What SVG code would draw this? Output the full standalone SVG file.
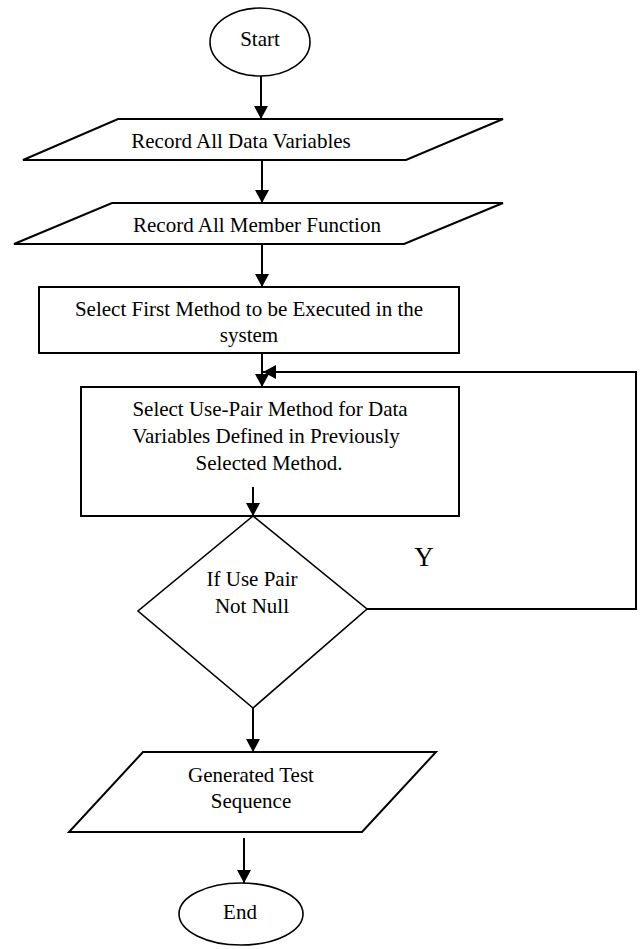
<svg xmlns="http://www.w3.org/2000/svg" width="642" height="949" viewBox="0 0 642 949">
<style>
.shape{fill:#fff;stroke:#000;stroke-width:2}
.thin{fill:#fff;stroke:#000;stroke-width:1.6}
.t{font-family:"Liberation Serif","Times New Roman",serif;font-size:21px;fill:#000;text-anchor:middle}
.conn{fill:none;stroke:#000;stroke-width:2}
</style>
<defs>
<marker id="ah" markerUnits="userSpaceOnUse" markerWidth="14" markerHeight="14" refX="13" refY="7" orient="auto">
<path d="M0,0 L13,7 L0,14 z" fill="#000"/>
</marker>
</defs>
<rect width="642" height="949" fill="#fff"/>
<g id="start">
<ellipse class="thin" cx="260" cy="42" rx="50" ry="34"/>
<text class="t" x="260" y="46">Start</text>
</g>
<g id="recordVars">
<polygon class="shape" points="118,119 503,119 406,160 23,160"/>
<text class="t" x="241" y="148">Record All Data Variables</text>
</g>
<g id="recordFuncs">
<polygon class="shape" points="112,203 503,203 404,244 14,244"/>
<text class="t" x="257" y="232">Record All Member Function</text>
</g>
<g id="selectFirst">
<rect class="shape" x="39" y="287" width="420" height="66"/>
<text class="t" x="249" y="316">Select First Method to be Executed in the</text>
<text class="t" x="249" y="342">system</text>
</g>
<g id="selectUsePair">
<rect class="shape" x="81" y="387" width="378" height="129"/>
<text class="t" x="270" y="416">Select Use-Pair Method for Data</text>
<text class="t" x="266" y="443">Variables Defined in Previously</text>
<text class="t" x="269" y="470">Selected Method.</text>
</g>
<g id="decision">
<polygon class="thin" points="253,516 367,609 253,708 138,611"/>
<text class="t" x="252" y="586">If Use Pair</text>
<text class="t" x="252" y="613">Not Null</text>
</g>
<g id="output">
<polygon class="shape" points="143,752 436,752 362,832 69,832"/>
<text class="t" x="251" y="782">Generated Test</text>
<text class="t" x="251" y="808">Sequence</text>
</g>
<g id="end">
<ellipse class="thin" cx="241" cy="914" rx="62" ry="31"/>
<text class="t" x="240" y="919">End</text>
</g>
<g id="connectors">
<line class="conn" x1="261" y1="76" x2="261" y2="119" marker-end="url(#ah)"/>
<line class="conn" x1="262" y1="160" x2="262" y2="203" marker-end="url(#ah)"/>
<line class="conn" x1="262" y1="244" x2="262" y2="287" marker-end="url(#ah)"/>
<line class="conn" x1="262" y1="353" x2="262" y2="387" marker-end="url(#ah)"/>
<line class="conn" x1="253" y1="487" x2="253" y2="516" marker-end="url(#ah)"/>
<polyline class="conn" points="367,609 636,609 636,372 263,372" marker-end="url(#ah)"/>
<line class="conn" x1="253" y1="708" x2="253" y2="752" marker-end="url(#ah)"/>
<line class="conn" x1="244" y1="838" x2="244" y2="883" marker-end="url(#ah)"/>
<text class="t" x="424" y="566" style="font-size:27px">Y</text>
</g>
</svg>
